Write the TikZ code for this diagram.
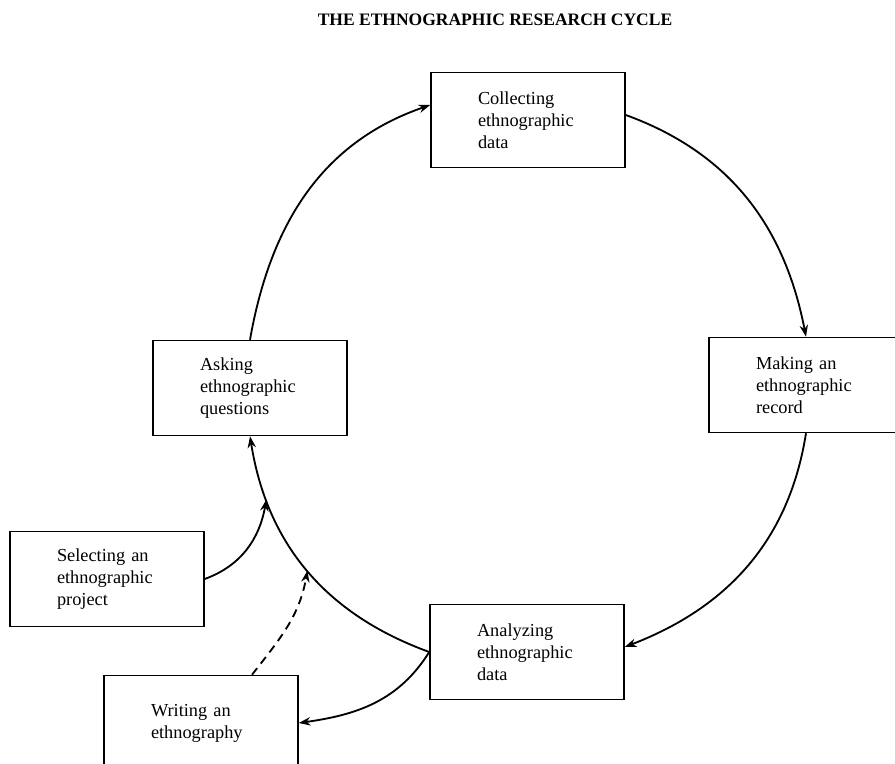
\documentclass[tikz,border=0pt]{standalone}
\usepackage{fontspec}
\setmainfont{Liberation Serif}
\usepackage{tikz}
\usetikzlibrary{arrows.meta,calc}

\begin{document}
\begin{tikzpicture}[x=0.6pt, y=0.6pt,
    stage/.style={draw, line width=0.9pt, minimum width=116.4pt, minimum height=57pt,
        text width=60pt, align=left, inner sep=0pt, font=\fontsize{11}{13.2}\selectfont},
    cyc/.style={line width=1.1pt, -{Stealth[length=7pt, width=5pt]}}]
\useasboundingbox (0, 0) rectangle (895, 764);
\node[font=\bfseries\fontsize{10.5}{12}\selectfont] (title) at (495, 744) {THE ETHNOGRAPHIC RESEARCH CYCLE};
% the stages of the cycle
\node[stage] (coll) at (528, 644) {Collecting\\ethnographic\\data};
\node[stage] (mak) at (806, 379) {Making an\\ethnographic\\record};
\node[stage] (ana) at (527, 112) {Analyzing\\ethnographic\\data};
\node[stage] (ask) at (250, 376) {Asking\\ethnographic\\questions};
\node[stage] (sel) at (107, 185) {Selecting an\\ethnographic\\project};
\node[stage] (wri) at (201, 41) {Writing an\\ethnography};
% the circle
\draw[cyc] (ask.north) to[out=80, in=199] ($(coll.west)+(0,15)$);
\draw[cyc] ($(coll.east)+(0,5)$) to[out=-20, in=101] (mak.north);
\draw[cyc] (mak.south) to[out=-99, in=21] ($(ana.east)+(0,5)$);
\draw[cyc] (ana.west) to[out=160, in=-81] coordinate[pos=0.5] (meetw) coordinate[pos=0.79] (meets) (ask.south);
% side branches
\draw[cyc] (sel.east) to[out=20, in=-100] (meets);
\draw[cyc, dash pattern=on 5pt off 3.5pt] ($(wri.north)+(51,0)$) to[out=52, in=-100] (meetw);
\draw[cyc] (ana.west) to[out=-122, in=8] (wri.east);
\end{tikzpicture}
\end{document}
